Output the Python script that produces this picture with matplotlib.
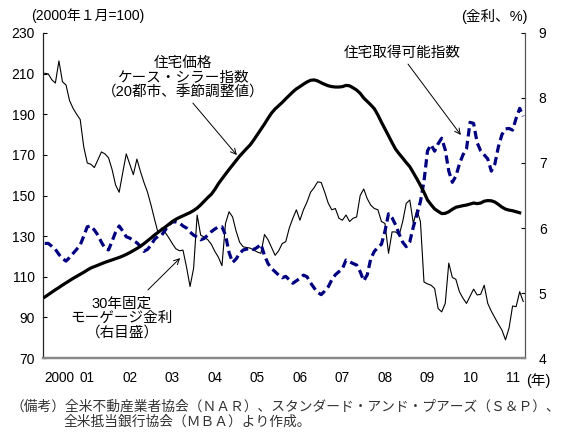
import matplotlib.pyplot as plt
import numpy as np

plt.rcParams['font.family'] = ['Liberation Sans', 'Noto Sans CJK JP', 'DejaVu Sans']

# monthly, Jan 2000 - Apr 2011
case_shiller = [
    100.0, 101.2, 102.4, 103.6, 104.7, 105.9, 107.0, 108.1, 109.2, 110.2, 111.2, 112.2,
    113.3, 114.3, 115.0, 115.7, 116.4, 117.1, 117.7, 118.3, 118.9, 119.5, 120.2, 121.0,
    121.9, 122.9, 123.9, 125.0, 126.3, 127.7, 129.1, 130.6, 131.9, 133.2, 134.5, 135.8,
    137.2, 138.3, 139.2, 140.0, 140.8, 141.6, 142.6, 143.8, 145.4, 147.2, 149.0, 150.6,
    153.0, 155.8, 158.2, 160.5, 162.8, 165.0, 167.2, 169.4, 171.3, 173.2, 175.0, 177.4,
    180.0, 182.6, 185.2, 188.0, 190.6, 192.6, 194.2, 195.8, 197.6, 199.3, 201.0, 202.5,
    203.6, 204.8, 205.9, 206.7, 206.9, 206.4, 205.5, 204.7, 204.0, 203.6, 203.4, 203.4,
    203.6, 204.2, 204.0, 203.0, 201.9, 200.3, 198.0, 196.3, 194.6, 192.7, 189.6, 186.1,
    182.8, 179.4, 176.0, 172.8, 170.5, 168.4, 166.2, 164.2, 161.2, 158.2, 155.0, 151.6,
    147.8, 145.5, 143.4, 142.2, 141.1, 141.2, 142.0, 143.2, 144.2, 144.6, 145.0, 145.3,
    145.8, 146.3, 146.0, 146.3, 147.2, 147.5, 147.4, 146.8, 145.6, 144.3, 143.3, 142.8,
    142.5, 142.0, 141.5,
]

affordability = [
    126.4, 126.4, 125.0, 123.5, 121.0, 119.0, 117.7, 119.5, 121.5, 123.5, 125.6, 130.0,
    134.6, 135.0, 133.0, 130.5, 127.0, 124.0, 123.2, 127.5, 132.0, 135.0, 132.5, 129.7,
    129.0, 127.8, 126.7, 125.0, 122.5, 123.5, 125.6, 128.5, 130.0, 130.5, 133.0, 135.5,
    137.0, 137.0, 136.5, 135.0, 134.0, 132.0, 130.5, 129.5, 128.2, 128.9, 130.5, 132.2,
    133.5, 134.6, 134.6, 130.5, 122.0, 117.0, 118.8, 121.5, 123.2, 123.6, 124.0, 123.4,
    124.5, 126.0, 120.5, 116.5, 114.0, 112.5, 110.8, 109.5, 110.2, 108.5, 106.8, 108.0,
    109.2, 110.8, 110.0, 107.0, 104.5, 102.3, 101.2, 103.0, 105.1, 108.5, 111.0, 112.5,
    114.0, 118.2, 117.4, 116.5, 115.8, 112.5, 108.0, 111.0, 119.0, 122.5, 124.5, 126.0,
    132.5, 141.0, 139.0, 135.5, 131.0, 127.0, 124.8, 127.2, 134.6, 140.5, 147.0, 157.0,
    172.0, 175.0, 171.8, 175.5, 178.2, 172.5, 162.0, 156.5, 159.5, 165.5, 170.0, 173.0,
    186.0, 185.5, 176.0, 172.0, 170.0, 168.0, 162.0, 165.5, 174.0, 180.0, 182.8, 183.0,
    182.2, 188.0, 192.9, 189.0,
]

mortgage_rate = [
    8.38, 8.37, 8.28, 8.23, 8.57, 8.25, 8.20, 7.96, 7.84, 7.75, 7.67, 7.25,
    7.00, 6.98, 6.93, 7.05, 7.17, 7.14, 7.08, 6.90, 6.66, 6.55, 6.85, 7.14,
    6.98, 6.82, 7.06, 6.87, 6.70, 6.55, 6.35, 6.13, 5.92, 6.00, 5.93, 5.85,
    5.76, 5.68, 5.65, 5.66, 5.40, 5.10, 5.38, 6.20, 5.89, 5.86, 5.82, 5.75,
    5.64, 5.55, 5.42, 6.07, 6.25, 6.17, 5.95, 5.78, 5.71, 5.70, 5.69, 5.66,
    5.63, 5.61, 5.90, 5.82, 5.70, 5.58, 5.65, 5.76, 5.79, 6.00, 6.15, 6.28,
    6.12, 6.28, 6.40, 6.55, 6.62, 6.71, 6.70, 6.55, 6.38, 6.28, 6.30, 6.15,
    6.12, 6.20, 6.10, 6.15, 6.17, 6.50, 6.60, 6.45, 6.35, 6.30, 6.28, 6.10,
    6.07, 5.61, 5.94, 5.94, 5.89, 6.10, 6.38, 6.43, 6.07, 6.28, 6.10, 5.17,
    5.14, 5.12, 5.07, 4.76, 4.71, 4.84, 5.46, 5.24, 5.21, 5.02, 4.92, 4.84,
    4.95, 5.06, 4.97, 4.98, 5.12, 4.84, 4.72, 4.62, 4.52, 4.43, 4.28, 4.46,
    4.80, 4.79, 5.02, 4.87,
]

year_labels = ['2000', '01', '02', '03', '04', '05', '06', '07', '08', '09', '10', '11']

fig = plt.figure(figsize=(5.61, 4.38), dpi=100)
ax = fig.add_axes([0.0766, 0.1826, 0.8592, 0.7421])
ax2 = ax.twinx()

ax.plot(np.arange(len(case_shiller)), case_shiller, color='black', lw=2.3, zorder=3)
ax.plot(np.arange(len(affordability)), affordability, color='#000080', lw=2.3,
        dashes=(2.6, 1.4), zorder=2)
ax2.plot(np.arange(len(mortgage_rate)), mortgage_rate, color='black', lw=0.8)

ax.set_zorder(ax2.get_zorder() + 1)
ax.patch.set_visible(False)

ax.set_xlim(-0.5, 135.5)
ax.set_ylim(70, 230)
ax2.set_ylim(4, 9)
ax.set_yticks(np.arange(70, 231, 20))
ax2.set_yticks(np.arange(4, 10, 1))
ax.set_xticks([12 * k for k in range(len(year_labels))])
ax.set_xticklabels(year_labels)
ax.get_xticklabels()[0].set_horizontalalignment('left')

ax.tick_params(axis='y', direction='in', length=3, pad=6, labelsize=10)
ax.tick_params(axis='x', length=0, pad=9, labelsize=9.8)
ax2.tick_params(axis='y', direction='in', length=3, pad=10, labelsize=10)

for a in (ax, ax2):
    a.spines['top'].set_visible(False)
    a.spines['left'].set_color('#222222')
    a.spines['right'].set_color('#555555')
    a.spines['bottom'].set_color('#888888')
    a.spines['bottom'].set_linewidth(1.6)

fig.text(88 / 561, 1 - 16 / 438, '(2000年１月=100)', ha='center', va='center', fontsize=10)
fig.text(494 / 561, 1 - 16 / 438, '(金利、%)', ha='center', va='center', fontsize=10.5)
fig.text(538 / 561, 1 - 381 / 438, '(年)', ha='center', va='center', fontsize=10.5)

arrow = dict(arrowstyle='->', color='black', lw=0.7, shrinkA=0, shrinkB=0)

ax.text(39, 207.8, '住宅価格\nケース・シラー指数\n（20都市、季節調整値）',
        ha='center', va='center', fontsize=10.5, linespacing=1.05)
ax.annotate('', xy=(54.2, 169.9), xytext=(41.8, 195.5), arrowprops=arrow)

ax.text(100.8, 220.2, '住宅取得可能指数', ha='center', va='center', fontsize=10.5)
ax.annotate('', xy=(117.4, 179.8), xytext=(102.5, 214.7), arrowprops=arrow)

ax.text(21.8, 89.7, '30年固定\nモーゲージ金利\n（右目盛）',
        ha='center', va='center', fontsize=10.5, linespacing=1.05)
ax.annotate('', xy=(38.2, 119.2), xytext=(29.1, 103.5), arrowprops=arrow)

fig.text(10 / 561, 1 - 407 / 438,
         '（備考）全米不動産業者協会（ＮＡＲ）、スタンダード・アンド・プアーズ（Ｓ＆Ｐ）、',
         ha='left', va='center', fontsize=9.9, color='#333333')
fig.text(63 / 561, 1 - 422 / 438, '全米抵当銀行協会（ＭＢＡ）より作成。',
         ha='left', va='center', fontsize=9.9, color='#333333')

fig.savefig('out.png', dpi=100)
